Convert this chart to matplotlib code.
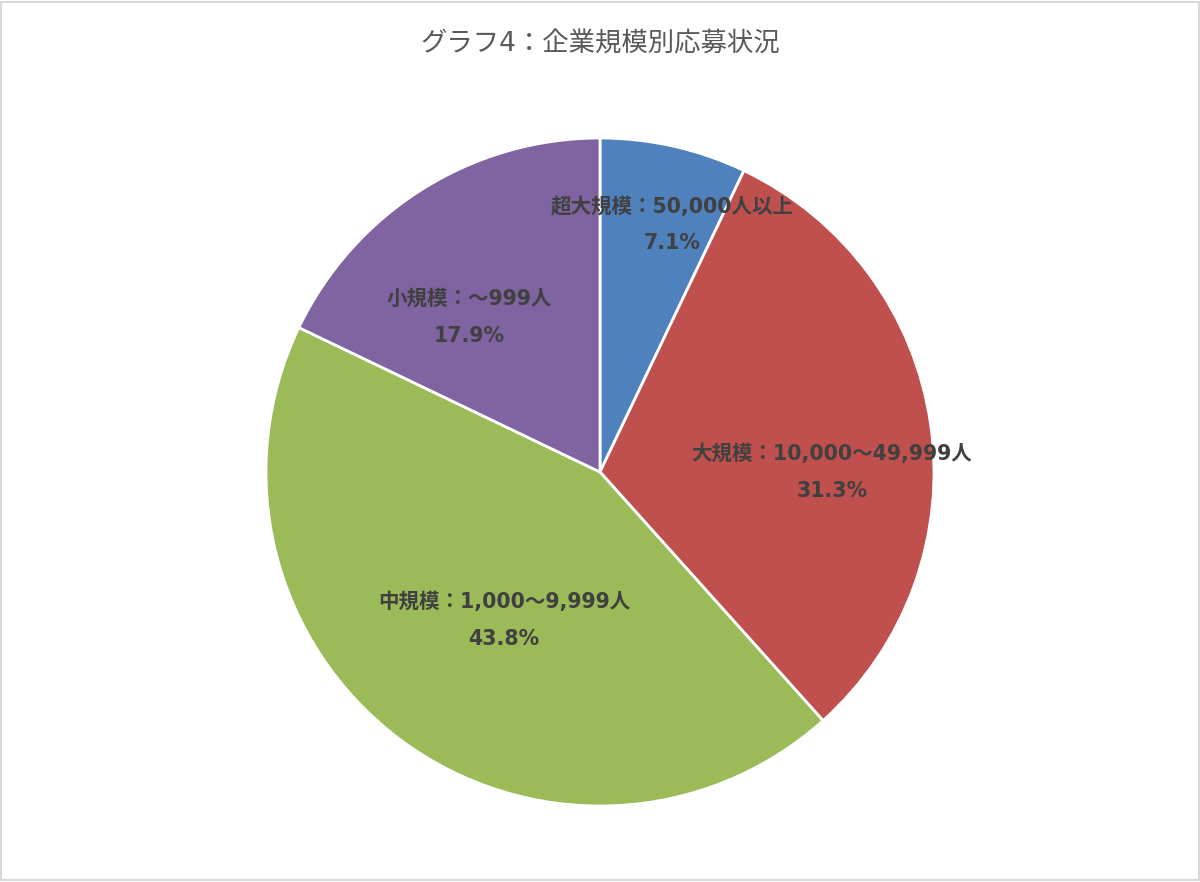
import matplotlib
matplotlib.use("Agg")
import matplotlib.pyplot as plt
from matplotlib.patches import Rectangle
import numpy as np

plt.rcParams['font.family'] = ['DejaVu Sans', 'Noto Sans CJK JP']

categories = ["超大規模：50,000人以上", "大規模：10,000～49,999人", "中規模：1,000～9,999人", "小規模：～999人"]
shares = [7.1, 31.3, 43.8, 17.9]
colors = ["#4F81BD", "#C0504D", "#9BBB59", "#8064A2"]
title = "グラフ4：企業規模別応募状況"

# label placement (fraction of radius, in axes data coords)
label_pos = [(0.216, 0.74), (0.695, 0.0), (-0.287, -0.443), (-0.392, 0.463)]

fig = plt.figure(figsize=(12, 8.82), dpi=100)
cx, cy = 600 / 1200, (882 - 472) / 882
rw, rh = 334 / 1200, 334 / 882
ax = fig.add_axes([cx - rw, cy - rh, 2 * rw, 2 * rh])
wedges, _ = ax.pie(shares, colors=colors, startangle=90, counterclock=False,
                   radius=1, wedgeprops=dict(edgecolor="white", linewidth=2))
ax.set_xlim(-1, 1)
ax.set_ylim(-1, 1)
ax.set_aspect("equal")
ax.axis("off")

for cat, val, (lx, ly) in zip(categories, shares, label_pos):
    ax.text(lx, ly, f"{cat}\n{val:.1f}%", ha="center", va="center",
            fontsize=14.8, fontweight="bold", color="#404040", linespacing=2.05)

fig.text(0.5, 1 - 44 / 882, title, ha="center", va="center", fontsize=19, color="#595959")

fig.patches.append(Rectangle((0.001, 0.002), 0.998, 0.996, transform=fig.transFigure,
                             fill=False, edgecolor="#D9D9D9", linewidth=1.5))

fig.savefig("out.png", dpi=100, facecolor="white")
